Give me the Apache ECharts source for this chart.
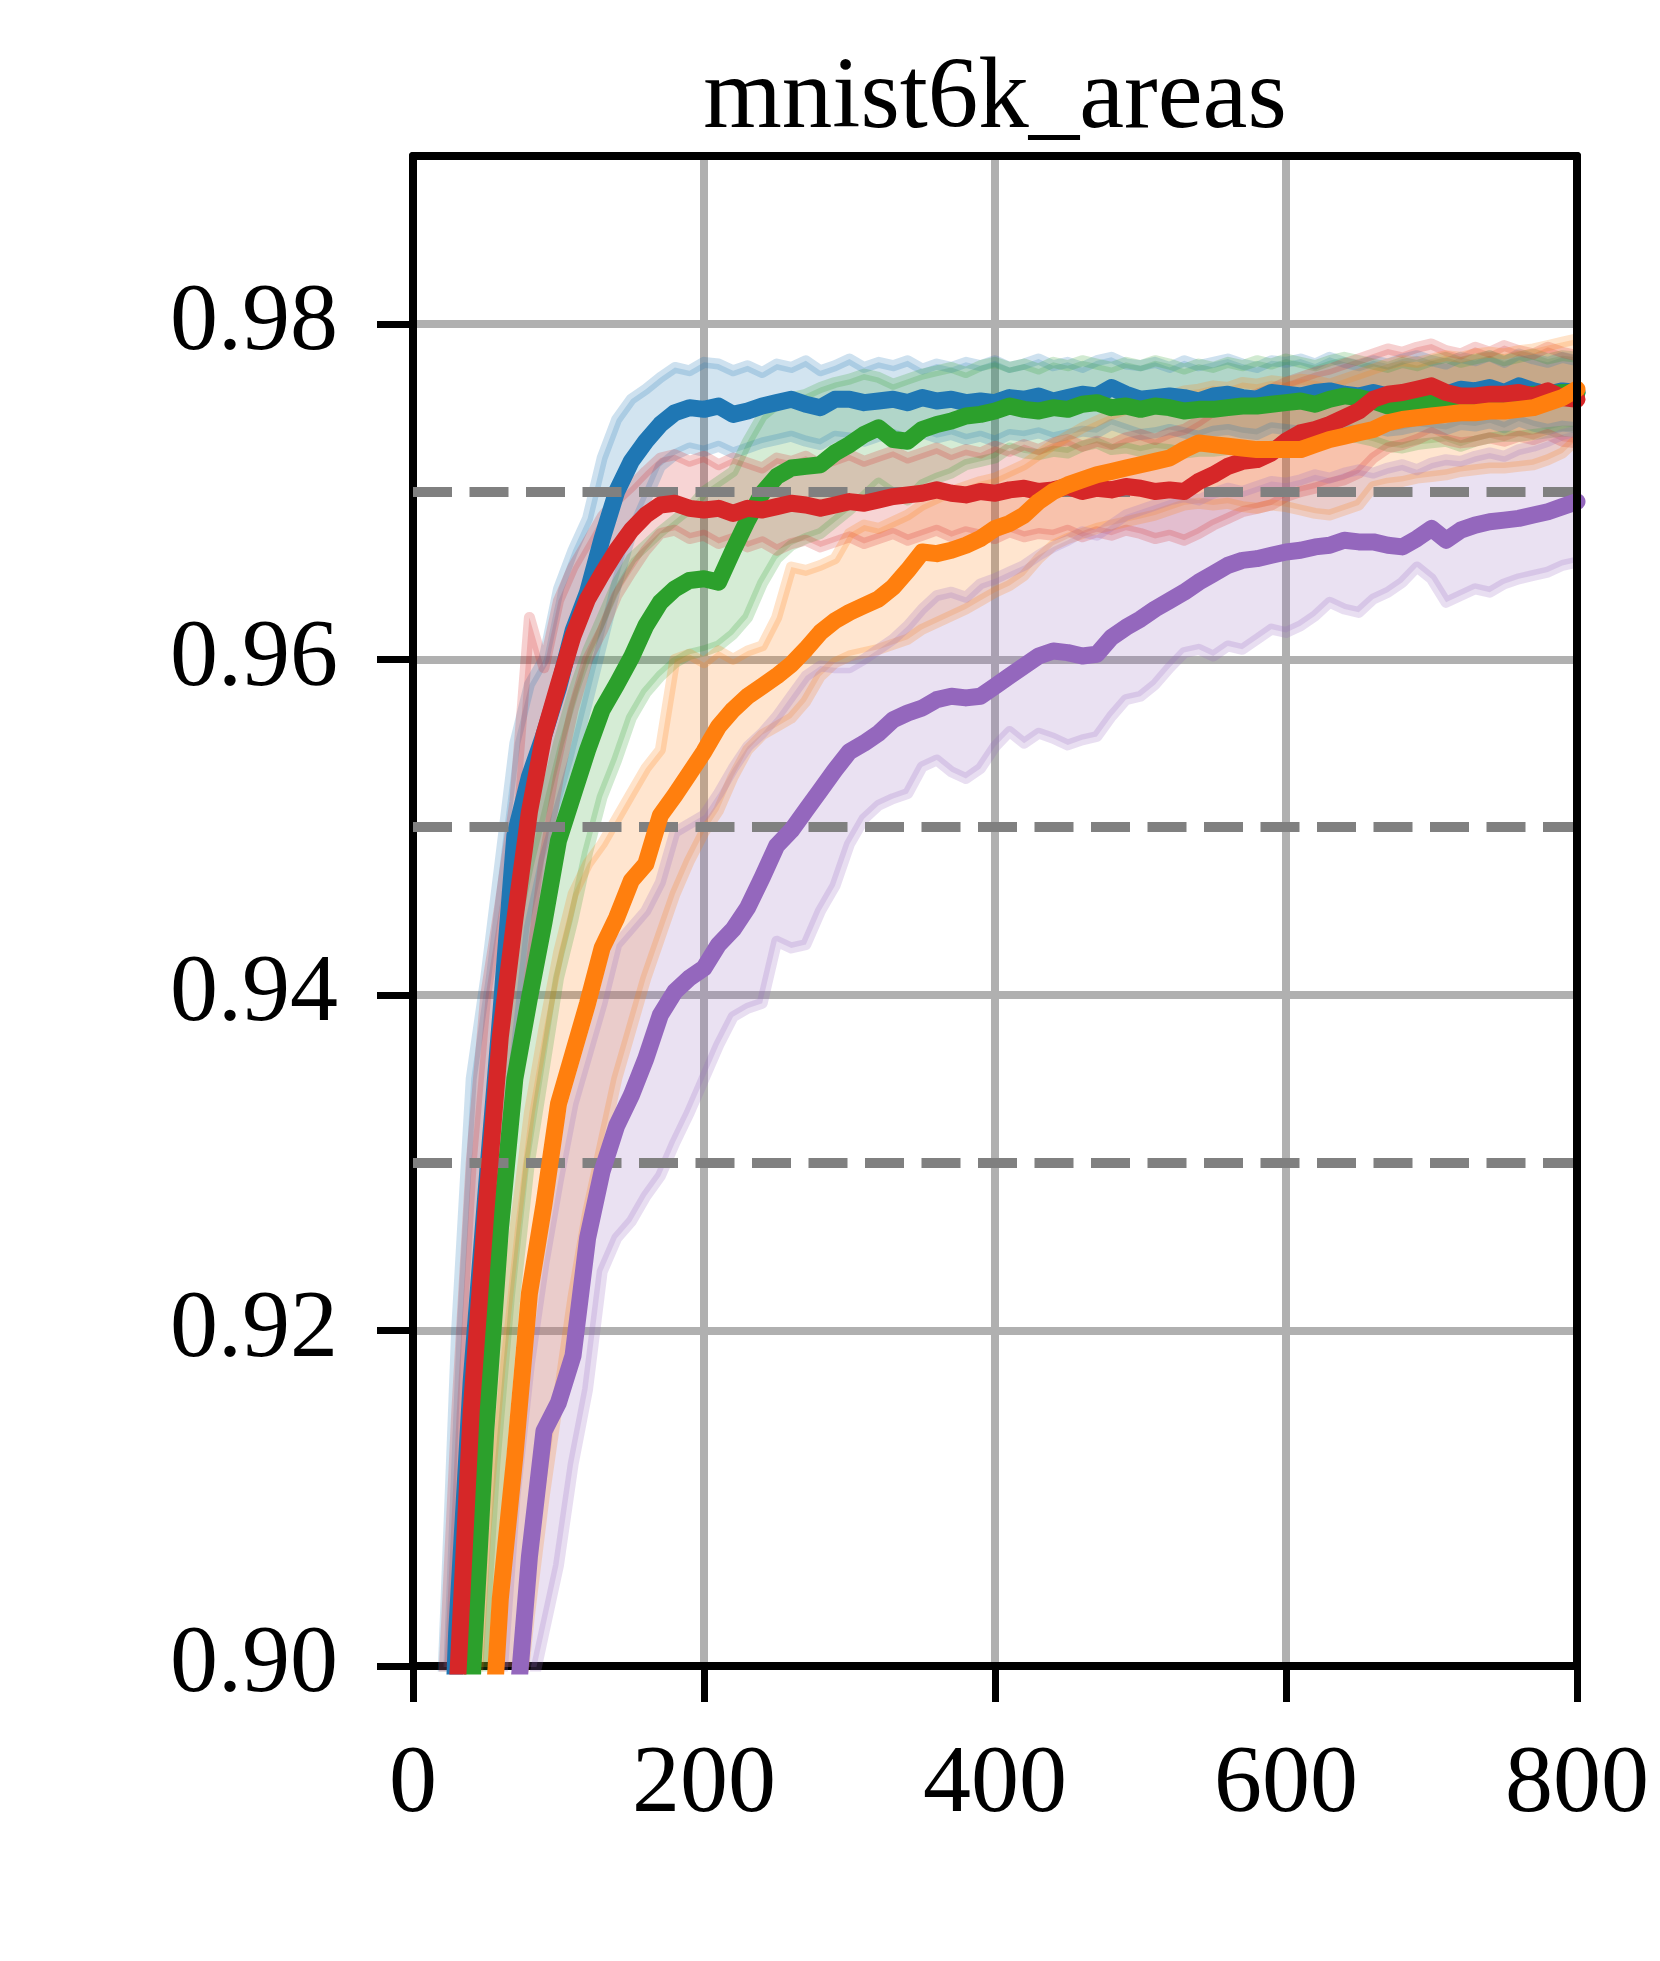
<!DOCTYPE html>
<html><head><meta charset="utf-8">
<script src="https://cdn.jsdelivr.net/npm/echarts@6/dist/echarts.min.js"></script>
<style>html,body{margin:0;padding:0;background:#fff}#c{width:1660px;height:1961px}</style>
</head><body><div id="c"></div>
<script>
const TITLE = 'mnist6k_areas';
const X_CATS = ['0','10','20','30','40','50','60','70','80','90',
'100','110','120','130','140','150','160','170','180','190',
'200','210','220','230','240','250','260','270','280','290',
'300','310','320','330','340','350','360','370','380','390',
'400','410','420','430','440','450','460','470','480','490',
'500','510','520','530','540','550','560','570','580','590',
'600','610','620','630','640','650','660','670','680','690',
'700','710','720','730','740','750','760','770','780','790','800'];
const Y_TICKS = [0.90, 0.92, 0.94, 0.96, 0.98];
const DASHED_LEVELS = [0.97, 0.95, 0.93];

const BLUE_MEAN = [0.800,0.840,0.880,0.902,0.917,0.928,0.9385,0.9495,0.9530,0.9555,
0.9583,0.9617,0.9640,0.9672,0.9700,0.9718,0.9730,0.9740,0.9747,0.9750,
0.9749,0.9751,0.9746,0.9748,0.9751,0.9753,0.9755,0.9752,0.9750,0.9755,
0.9755,0.9753,0.9754,0.9755,0.9753,0.9756,0.9754,0.9755,0.9753,0.9754,
0.9753,0.9756,0.9755,0.9757,0.9754,0.9756,0.9758,0.9757,0.9762,0.9758,
0.9755,0.9756,0.9757,0.9756,0.9754,0.9757,0.9758,0.9756,0.9755,0.9759,
0.9758,0.9757,0.9759,0.9760,0.9758,0.9757,0.9759,0.9757,0.9758,0.9760,
0.9759,0.9758,0.9761,0.9760,0.9762,0.9759,0.9763,0.9760,0.9758,0.9760,0.9759];
const BLUE_UPPER = [0.830,0.865,0.898,0.920,0.935,0.941,0.948,0.955,0.9585,0.9600,
0.9642,0.9665,0.9684,0.9720,0.9743,0.9755,0.9761,0.9768,0.9774,0.9772,
0.9777,0.9776,0.9772,0.9775,0.9771,0.9776,0.9774,0.9778,0.9772,0.9775,
0.9779,0.9774,0.9777,0.9775,0.9778,0.9773,0.9776,0.9774,0.9777,0.9775,
0.9778,0.9774,0.9776,0.9779,0.9775,0.9777,0.9774,0.9778,0.9780,0.9776,
0.9775,0.9777,0.9774,0.9778,0.9775,0.9777,0.9779,0.9776,0.9774,0.9778,
0.9777,0.9779,0.9776,0.9780,0.9777,0.9775,0.9778,0.9776,0.9779,0.9781,
0.9778,0.9776,0.9780,0.9778,0.9781,0.9777,0.9782,0.9779,0.9777,0.9780,0.9778];
const BLUE_LOWER = [0.770,0.810,0.855,0.880,0.900,0.914,0.926,0.936,0.944,0.948,
0.951,0.954,0.9575,0.9610,0.9645,0.9675,0.9695,0.9715,0.9722,0.9726,
0.9724,0.9727,0.9723,0.9726,0.9729,0.9731,0.9733,0.9730,0.9728,0.9733,
0.9732,0.9730,0.9733,0.9734,0.9731,0.9735,0.9732,0.9734,0.9731,0.9733,
0.9730,0.9734,0.9733,0.9735,0.9732,0.9734,0.9736,0.9735,0.9740,0.9737,
0.9734,0.9735,0.9737,0.9735,0.9733,0.9736,0.9737,0.9735,0.9734,0.9738,
0.9737,0.9736,0.9738,0.9739,0.9737,0.9736,0.9738,0.9736,0.9737,0.9739,
0.9738,0.9737,0.9740,0.9739,0.9741,0.9738,0.9742,0.9739,0.9737,0.9739,0.9738];

const RED_MEAN = [0.800,0.840,0.876,0.898,0.9152,0.9270,0.9375,0.9445,0.9509,0.9555,
0.9585,0.9614,0.9636,0.9651,0.9665,0.9677,0.9686,0.9692,0.9693,0.9690,
0.9689,0.9690,0.9687,0.9690,0.9689,0.9691,0.9693,0.9692,0.9690,0.9692,
0.9694,0.9693,0.9695,0.9697,0.9698,0.9699,0.9701,0.9699,0.9698,0.9700,
0.9699,0.9701,0.9702,0.9700,0.9701,0.9703,0.9700,0.9702,0.9701,0.9703,
0.9702,0.9700,0.9701,0.9700,0.9706,0.9710,0.9715,0.9718,0.9719,0.9723,
0.9730,0.9735,0.9737,0.9740,0.9744,0.9748,0.9755,0.9758,0.9759,0.9761,
0.9763,0.9759,0.9757,0.9757,0.9758,0.9758,0.9759,0.9757,0.9760,0.9756,0.9755];
const RED_UPPER = [0.830,0.865,0.897,0.915,0.930,0.940,0.9455,0.9515,0.9625,0.9595,
0.9635,0.9655,0.9670,0.9685,0.9695,0.9703,0.9712,0.9720,0.9722,0.9718,
0.9721,0.9716,0.9720,0.9717,0.9714,0.9720,0.9718,0.9721,0.9716,0.9719,
0.9722,0.9718,0.9721,0.9724,0.9720,0.9723,0.9726,0.9722,0.9725,0.9723,
0.9727,0.9724,0.9728,0.9725,0.9729,0.9731,0.9727,0.9730,0.9728,0.9732,
0.9734,0.9731,0.9735,0.9737,0.9742,0.9748,0.9752,0.9756,0.9758,0.9761,
0.9765,0.9768,0.9771,0.9773,0.9776,0.9779,0.9782,0.9785,0.9783,0.9786,
0.9788,0.9784,0.9782,0.9786,0.9783,0.9787,0.9784,0.9782,0.9786,0.9783,0.9781];
const RED_LOWER = [0.770,0.810,0.850,0.877,0.898,0.912,0.924,0.934,0.941,0.948,
0.953,0.957,0.9600,0.9617,0.9638,0.9652,0.9665,0.9675,0.9677,0.9672,
0.9674,0.9669,0.9672,0.9667,0.9670,0.9665,0.9669,0.9671,0.9667,0.9670,
0.9673,0.9669,0.9672,0.9675,0.9671,0.9674,0.9677,0.9673,0.9676,0.9674,
0.9672,0.9676,0.9673,0.9675,0.9674,0.9677,0.9673,0.9676,0.9674,0.9677,
0.9675,0.9672,0.9674,0.9671,0.9675,0.9680,0.9684,0.9688,0.9690,0.9692,
0.9697,0.9700,0.9702,0.9705,0.9707,0.9711,0.9720,0.9726,0.9728,0.9731,
0.9735,0.9731,0.9729,0.9730,0.9732,0.9730,0.9733,0.9731,0.9734,0.9730,0.9729];

const GREEN_MEAN = [0.780,0.820,0.855,0.880,0.898,0.914,0.9260,0.9350,0.9398,0.9443,
0.9492,0.9519,0.9546,0.9570,0.9585,0.9601,0.9620,0.9634,0.9642,0.9647,
0.9648,0.9646,0.9665,0.9683,0.9699,0.9709,0.9714,0.9715,0.9716,0.9723,
0.9728,0.9734,0.9738,0.9731,0.9730,0.9737,0.9740,0.9742,0.9745,0.9746,
0.9748,0.9751,0.9749,0.9748,0.9750,0.9749,0.9752,0.9753,0.9750,0.9751,
0.9749,0.9751,0.9750,0.9748,0.9749,0.9749,0.9750,0.9751,0.9751,0.9752,
0.9753,0.9754,0.9752,0.9755,0.9757,0.9756,0.9754,0.9751,0.9751,0.9752,
0.9753,0.9754,0.9752,0.9755,0.9756,0.9757,0.9757,0.9758,0.9758,0.9759,0.9759];
const GREEN_UPPER = [0.800,0.845,0.878,0.900,0.918,0.930,0.938,0.944,0.948,0.9515,
0.9550,0.9580,0.9605,0.9625,0.9645,0.9660,0.9668,0.9676,0.9683,0.9690,
0.9700,0.9706,0.9712,0.9730,0.9745,0.9752,0.9756,0.9758,0.9762,0.9765,
0.9767,0.9770,0.9768,0.9764,0.9767,0.9770,0.9772,0.9774,0.9771,0.9775,
0.9777,0.9774,0.9776,0.9773,0.9777,0.9775,0.9778,0.9776,0.9774,0.9777,
0.9775,0.9778,0.9776,0.9773,0.9776,0.9774,0.9777,0.9775,0.9778,0.9776,
0.9779,0.9777,0.9775,0.9778,0.9780,0.9778,0.9776,0.9774,0.9777,0.9775,
0.9778,0.9780,0.9777,0.9779,0.9781,0.9778,0.9780,0.9782,0.9779,0.9781,0.9780];
const GREEN_LOWER = [0.760,0.800,0.832,0.860,0.880,0.898,0.912,0.922,0.930,0.9355,
0.9410,0.9445,0.9485,0.9518,0.9540,0.9565,0.9580,0.9590,0.9598,0.9603,
0.9605,0.9608,0.9615,0.9625,0.9645,0.9660,0.9668,0.9672,0.9675,0.9682,
0.9689,0.9697,0.9705,0.9699,0.9695,0.9704,0.9708,0.9711,0.9716,0.9718,
0.9720,0.9726,0.9723,0.9722,0.9724,0.9723,0.9727,0.9729,0.9725,0.9726,
0.9724,0.9726,0.9725,0.9723,0.9724,0.9724,0.9725,0.9726,0.9726,0.9727,
0.9728,0.9730,0.9727,0.9731,0.9733,0.9732,0.9730,0.9727,0.9726,0.9728,
0.9729,0.9730,0.9727,0.9730,0.9732,0.9733,0.9733,0.9734,0.9735,0.9736,0.9736];

const ORANGE_MEAN = [0.750,0.790,0.820,0.850,0.872,0.890,0.904,0.9125,0.9222,0.9275,
0.9335,0.9365,0.9395,0.9428,0.9446,0.9468,0.9478,0.9507,0.9519,0.9532,
0.9545,0.9560,0.9570,0.9578,0.9584,0.9590,0.9597,0.9606,0.9616,0.9623,
0.9628,0.9632,0.9636,0.9643,0.9653,0.9664,0.9663,0.9665,0.9668,0.9672,
0.9678,0.9681,0.9686,0.9694,0.9700,0.9704,0.9707,0.9710,0.9712,0.9714,
0.9716,0.9718,0.9720,0.9725,0.9729,0.9728,0.9727,0.9726,0.9725,0.9725,
0.9725,0.9725,0.9728,0.9731,0.9733,0.9735,0.9737,0.9741,0.9743,0.9744,
0.9745,0.9746,0.9747,0.9747,0.9748,0.9748,0.9749,0.9750,0.9753,0.9756,0.9761];
const ORANGE_UPPER = [0.780,0.815,0.848,0.873,0.893,0.908,0.918,0.926,0.933,0.938,
0.9425,0.9460,0.9478,0.9490,0.9505,0.9520,0.9535,0.9546,0.9600,0.9603,
0.9598,0.9605,0.9600,0.9605,0.9608,0.9625,0.9655,0.9653,0.9656,0.9660,
0.9675,0.9680,0.9678,0.9682,0.9686,0.9692,0.9696,0.9700,0.9703,0.9706,
0.9708,0.9712,0.9716,0.9722,0.9728,0.9733,0.9738,0.9742,0.9746,0.9749,
0.9752,0.9755,0.9757,0.9760,0.9761,0.9763,0.9762,0.9765,0.9764,0.9766,
0.9765,0.9767,0.9766,0.9764,0.9767,0.9770,0.9773,0.9776,0.9778,0.9777,
0.9779,0.9781,0.9780,0.9782,0.9783,0.9782,0.9784,0.9785,0.9787,0.9789,0.9791];
const ORANGE_LOWER = [0.720,0.760,0.790,0.820,0.845,0.866,0.882,0.895,0.903,0.910,
0.916,0.922,0.927,0.931,0.935,0.938,0.941,0.9435,0.946,0.948,
0.9497,0.9510,0.9530,0.9546,0.9555,0.9560,0.9565,0.9575,0.9590,0.9598,
0.9602,0.9604,0.9606,0.9609,0.9612,0.9618,0.9622,0.9626,0.9630,0.9635,
0.9640,0.9644,0.9650,0.9660,0.9668,0.9672,0.9675,0.9678,0.9680,0.9682,
0.9684,0.9686,0.9689,0.9692,0.9693,0.9692,0.9693,0.9691,0.9690,0.9692,
0.9691,0.9689,0.9687,0.9686,0.9689,0.9692,0.9703,0.9705,0.9706,0.9708,
0.9709,0.9710,0.9712,0.9713,0.9714,0.9714,0.9715,0.9716,0.9719,0.9723,0.9731];

const PURPLE_MEAN = [0.700,0.740,0.770,0.800,0.830,0.855,0.876,0.896,0.9065,0.9140,
0.9157,0.9185,0.9255,0.9295,0.9322,0.9340,0.9362,0.9388,0.9402,0.9410,
0.9416,0.9430,0.9439,0.9452,0.9470,0.9489,0.9498,0.9510,0.9522,0.9534,
0.9545,0.9550,0.9556,0.9564,0.9568,0.9571,0.9576,0.9578,0.9577,0.9578,
0.9584,0.9590,0.9596,0.9602,0.9605,0.9604,0.9602,0.9603,0.9613,0.9619,
0.9624,0.9630,0.9635,0.9640,0.9646,0.9651,0.9656,0.9659,0.9660,0.9662,
0.9664,0.9665,0.9667,0.9668,0.9671,0.9670,0.9670,0.9668,0.9667,0.9672,
0.9678,0.9671,0.9677,0.9680,0.9682,0.9683,0.9684,0.9686,0.9688,0.9691,0.9694];
const PURPLE_UPPER = [0.740,0.775,0.805,0.835,0.860,0.882,0.898,0.910,0.918,0.924,
0.929,0.9335,0.9365,0.9395,0.9430,0.9440,0.9450,0.9467,0.9497,0.9502,
0.9507,0.9520,0.9535,0.9548,0.9556,0.9566,0.9578,0.9590,0.9596,0.9595,
0.9595,0.9600,0.9606,0.9612,0.9620,0.9630,0.9638,0.9640,0.9637,0.9645,
0.9648,0.9652,0.9656,0.9662,0.9667,0.9671,0.9676,0.9674,0.9680,0.9686,
0.9689,0.9692,0.9695,0.9697,0.9695,0.9699,0.9702,0.9700,0.9703,0.9706,
0.9705,0.9707,0.9710,0.9708,0.9711,0.9713,0.9711,0.9714,0.9716,0.9713,
0.9717,0.9719,0.9718,0.9721,0.9723,0.9721,0.9725,0.9727,0.9730,0.9734,0.9736];
const PURPLE_LOWER = [0.660,0.700,0.730,0.760,0.790,0.820,0.850,0.875,0.898,0.902,
0.9060,0.9120,0.9165,0.9235,0.9255,0.9265,0.9280,0.9292,0.9312,0.9330,
0.9350,0.9370,0.9387,0.9392,0.9395,0.9432,0.9428,0.9430,0.9450,0.9465,
0.9490,0.9505,0.9513,0.9517,0.9520,0.9536,0.9540,0.9533,0.9529,0.9535,
0.9548,0.9557,0.9550,0.9556,0.9553,0.9549,0.9552,0.9554,0.9566,0.9576,
0.9578,0.9585,0.9595,0.9604,0.9606,0.9602,0.9608,0.9606,0.9612,0.9618,
0.9616,0.9620,0.9626,0.9634,0.9630,0.9628,0.9636,0.9640,0.9646,0.9655,
0.9648,0.9634,0.9638,0.9642,0.9640,0.9645,0.9648,0.9650,0.9652,0.9656,0.9658];

const FONT = '"Liberation Serif", "DejaVu Serif", serif';
const GROUPS = [
  {key:'blue',   color:'#1f77b4', mean:BLUE_MEAN,   upper:BLUE_UPPER,   lower:BLUE_LOWER},
  {key:'green',  color:'#2ca02c', mean:GREEN_MEAN,  upper:GREEN_UPPER,  lower:GREEN_LOWER},
  {key:'red',    color:'#d62728', mean:RED_MEAN,    upper:RED_UPPER,    lower:RED_LOWER},
  {key:'orange', color:'#ff7f0e', mean:ORANGE_MEAN, upper:ORANGE_UPPER, lower:ORANGE_LOWER},
  {key:'purple', color:'#9467bd', mean:PURPLE_MEAN, upper:PURPLE_UPPER, lower:PURPLE_LOWER}
];

const series = [];
GROUPS.forEach(g => {
  series.push({type:'line', stack:'band_'+g.key, data:g.lower, symbol:'none', silent:true,
    lineStyle:{opacity:0}, z:1});
  series.push({type:'line', stack:'band_'+g.key, data:g.upper.map((u,i)=>u-g.lower[i]), symbol:'none', silent:true,
    lineStyle:{opacity:0}, areaStyle:{color:g.color, opacity:0.2}, z:1});
  series.push({type:'line', data:g.upper, symbol:'none', silent:true,
    lineStyle:{color:g.color, width:11, opacity:0.22, join:'round'}, z:1});
  series.push({type:'line', data:g.lower, symbol:'none', silent:true,
    lineStyle:{color:g.color, width:11, opacity:0.22, join:'round'}, z:1});
});
GROUPS.forEach((g,i) => {
  series.push({type:'line', data:g.mean, symbol:'none', silent:true,
    lineStyle:{color:g.color, width:17, cap:'round', join:'round'}, z:3+i});
});
series.push({type:'line', data:[], symbol:'none', silent:true, z:20,
  markLine:{silent:true, symbol:'none', animation:false, label:{show:false},
    lineStyle:{color:'#808080', width:10, type:[39,17.5]},
    data: DASHED_LEVELS.map(v => ({yAxis:v}))}});

const chart = echarts.init(document.getElementById('c'), null, {renderer:'canvas', width:1660, height:1961});
chart.setOption({
  animation:false,
  backgroundColor:'#fff',
  grid:{left:413, top:156, width:1164, height:1510, containLabel:false},
  graphic:[{type:'text', x:995, y:100, z:100,
    style:{text:TITLE, fontSize:101, fontFamily:FONT, fill:'#000',
      align:'center', verticalAlign:'middle', textAlign:'center', textVerticalAlign:'middle'}}],
  xAxis:[
    {type:'category', data:X_CATS, boundaryGap:false,
     axisLine:{show:true, lineStyle:{color:'#000', width:8}},
     axisTick:{show:true, interval:19, length:36, lineStyle:{color:'#000', width:7}},
     axisLabel:{interval:19, fontSize:96, fontFamily:FONT, color:'#000', margin:72},
     splitLine:{show:true, interval:19, lineStyle:{color:'#b0b0b0', width:8}}},
    {type:'category', data:X_CATS, boundaryGap:false, position:'top', z:10,
     axisLine:{show:true, lineStyle:{color:'#000', width:8}},
     axisTick:{show:false}, axisLabel:{show:false}, splitLine:{show:false}}
  ],
  yAxis:[
    {type:'value', min:0.90, max:0.99, interval:0.02,
     axisLine:{show:true, lineStyle:{color:'#000', width:8}},
     axisTick:{show:true, length:36, lineStyle:{color:'#000', width:7}, customValues:Y_TICKS},
     axisLabel:{fontSize:96, fontFamily:FONT, color:'#000', margin:75, customValues:Y_TICKS,
       formatter: v => (Y_TICKS.some(t => Math.abs(t - v) < 1e-6) ? v.toFixed(2) : '')},
     splitLine:{show:true, lineStyle:{color:'#b0b0b0', width:8}}},
    {type:'value', min:0.90, max:0.99, interval:0.02, position:'right', z:10,
     axisLine:{show:true, lineStyle:{color:'#000', width:8}},
     axisTick:{show:false}, axisLabel:{show:false}, splitLine:{show:false}}
  ],
  series: series
});
</script></body></html>
